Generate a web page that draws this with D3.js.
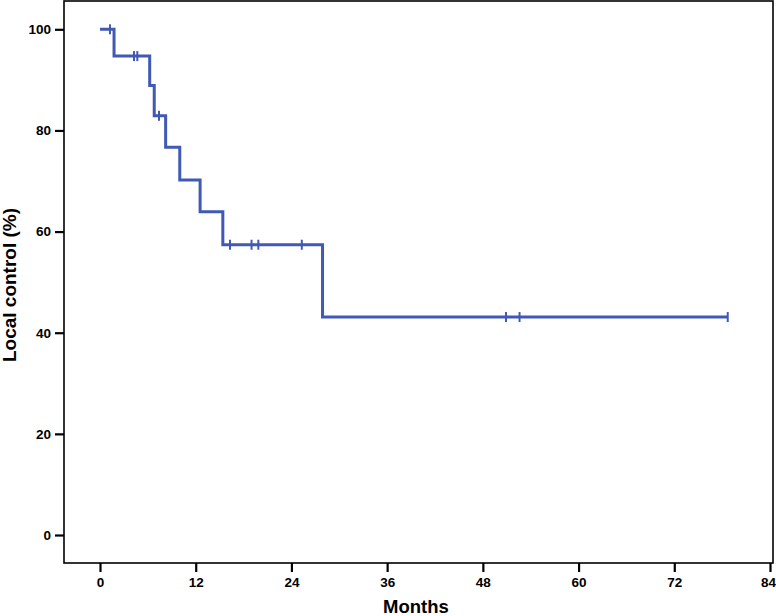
<!DOCTYPE html>
<html>
<head>
<meta charset="utf-8">
<script src="https://cdn.jsdelivr.net/npm/d3@7"></script>
<style>
  body { margin: 0; background: #fff; }
  svg { display: block; font-family: "Liberation Sans", Arial, Helvetica, sans-serif; }
</style>
</head>
<body>
<svg id="chart" width="776" height="616"></svg>
<script>
// Kaplan-Meier step curve
const stepTimes = [0, 1.76, 6.23, 6.8, 8.23, 10.0, 12.55, 15.4, 27.9];
const stepValues = [100, 94.7, 88.9, 82.9, 76.7, 70.2, 63.9, 57.4, 43.1];
const censorTimes = [1.25, 4.26, 4.68, 7.4, 16.3, 19.0, 19.85, 25.3, 50.9, 52.6, 78.7];
const lastTime = 78.7;
const xTicks = [0, 12, 24, 36, 48, 60, 72, 84];
const yTicks = [0, 20, 40, 60, 80, 100];

const svg = d3.select('#chart');
const frame = { left: 64, top: 1, right: 773, bottom: 563 };

const x = d3.scaleLinear().domain([0, 84]).range([100, 770]);
const y = d3.scaleLinear().domain([0, 100]).range([535, 29.3]);

// value of the curve at time t
const survAt = t => {
  let v = stepValues[0];
  stepTimes.forEach((s, i) => { if (s <= t) v = stepValues[i]; });
  return v;
};

// frame
svg.append('rect')
  .attr('x', frame.left)
  .attr('y', frame.top)
  .attr('width', frame.right - frame.left)
  .attr('height', frame.bottom - frame.top)
  .attr('fill', 'none')
  .attr('stroke', '#000')
  .attr('stroke-width', 1.6);

const xAxis = svg.append('g')
  .attr('transform', `translate(0,${frame.bottom})`)
  .call(d3.axisBottom(x).tickValues(xTicks).tickSize(9).tickPadding(5));

const yAxis = svg.append('g')
  .attr('transform', `translate(${frame.left},0)`)
  .call(d3.axisLeft(y).tickValues(yTicks).tickSize(9).tickPadding(4));

[xAxis, yAxis].forEach(g => {
  g.select('.domain').remove();
  g.selectAll('.tick line').attr('stroke', '#000').attr('stroke-width', 2.2);
  g.selectAll('.tick text')
    .attr('fill', '#000')
    .attr('font-size', 13.5)
    .attr('font-weight', 'bold')
    .attr('font-family', '"Liberation Sans", Arial, sans-serif');
});

// last x label sits against the right edge
xAxis.selectAll('.tick text').filter(d => d === 84).attr('dx', -2);

// step line
const pts = stepTimes.map((t, i) => [t, stepValues[i]]);
pts.push([lastTime, stepValues[stepValues.length - 1]]);

const line = d3.line()
  .x(d => x(d[0]))
  .y(d => y(d[1]))
  .curve(d3.curveStepAfter);

const blue = '#4059b5';

svg.append('path')
  .datum(pts)
  .attr('d', line)
  .attr('fill', 'none')
  .attr('stroke', blue)
  .attr('stroke-width', 3)
  .attr('stroke-linejoin', 'miter');

// censor marks
svg.append('g')
  .selectAll('line')
  .data(censorTimes)
  .join('line')
  .attr('x1', d => x(d))
  .attr('x2', d => x(d))
  .attr('y1', d => y(survAt(d)) - 5)
  .attr('y2', d => y(survAt(d)) + 5)
  .attr('stroke', blue)
  .attr('stroke-width', 2);

// axis titles
svg.append('text')
  .attr('x', 416)
  .attr('y', 613)
  .attr('text-anchor', 'middle')
  .attr('font-size', 18.5)
  .attr('font-weight', 'bold')
  .text('Months');

svg.append('text')
  .attr('transform', 'translate(16,285) rotate(-90)')
  .attr('text-anchor', 'middle')
  .attr('font-size', 19)
  .attr('font-weight', 'bold')
  .text('Local control (%)');
</script>
</body>
</html>
